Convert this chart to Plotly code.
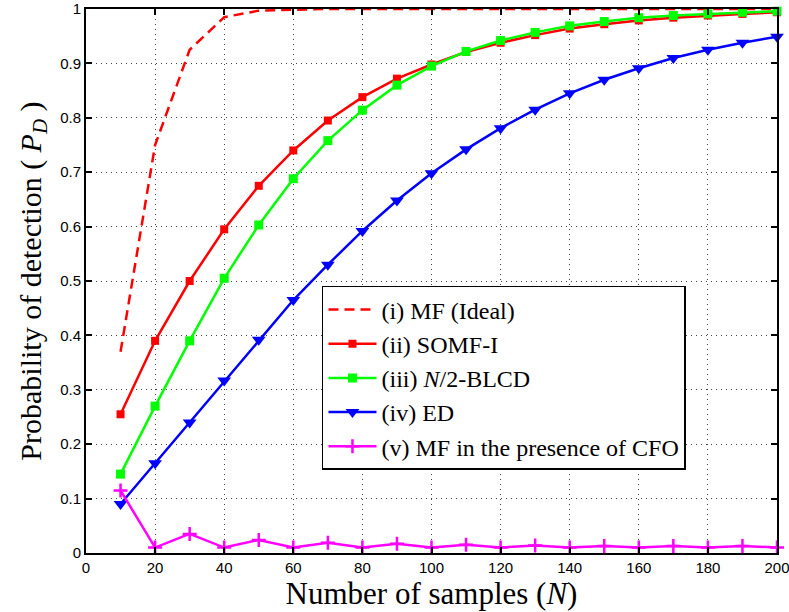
import plotly.graph_objects as go

N = list(range(10, 201, 10))
mf_ideal = [0.37, 0.75, 0.925, 0.985, 0.997, 0.999, 1.0, 1.0, 1.0, 1.0,
            1.0, 1.0, 1.0, 1.0, 1.0, 1.0, 1.0, 1.0, 1.0, 1.0]
somf = [0.255, 0.39, 0.50, 0.595, 0.675, 0.74, 0.795, 0.838, 0.872, 0.898,
        0.921, 0.938, 0.952, 0.964, 0.972, 0.979, 0.984, 0.988, 0.991, 0.994]
blcd = [0.145, 0.27, 0.39, 0.505, 0.603, 0.688, 0.758, 0.814, 0.86, 0.895,
        0.922, 0.942, 0.957, 0.969, 0.977, 0.984, 0.988, 0.991, 0.994, 0.996]
ed = [0.09, 0.165, 0.24, 0.317, 0.392, 0.465, 0.53, 0.592, 0.648, 0.698,
      0.742, 0.781, 0.815, 0.845, 0.87, 0.891, 0.91, 0.925, 0.938, 0.949]
cfo = [0.115, 0.01, 0.035, 0.01, 0.024, 0.01, 0.019, 0.01, 0.017, 0.01,
       0.015, 0.01, 0.014, 0.01, 0.013, 0.01, 0.013, 0.01, 0.013, 0.01]

names = ["(i) MF (Ideal)", "(ii) SOMF-I", "(iii) <i>N</i>/2-BLCD", "(iv) ED",
         "(v) MF in the presence of CFO"]
x_ticks = list(range(0, 201, 20))
y_ticks = [round(0.1 * i, 1) for i in range(11)]
y_tick_text = ["0", "0.1", "0.2", "0.3", "0.4", "0.5", "0.6", "0.7", "0.8", "0.9", "1"]

fig = go.Figure()
fig.add_trace(go.Scatter(x=N, y=mf_ideal, mode="lines", name=names[0], legendgroup="a",
                         line=dict(color="#ff0000", width=2.5, dash="10px,6px"), cliponaxis=False))
fig.add_trace(go.Scatter(x=N, y=somf, mode="lines+markers", name=names[1], legendgroup="b",
                         line=dict(color="#ff0000", width=2.5),
                         marker=dict(symbol="square", size=8, color="#ff0000"), cliponaxis=False))
fig.add_trace(go.Scatter(x=N, y=blcd, mode="lines+markers", name=names[2], legendgroup="c",
                         line=dict(color="#00ff00", width=2.5),
                         marker=dict(symbol="square", size=9, color="#00ff00"), cliponaxis=False))
fig.add_trace(go.Scatter(x=N, y=ed, mode="lines+markers", name=names[3], legendgroup="d",
                         line=dict(color="#0000ff", width=2.5),
                         marker=dict(symbol="triangle-down", size=12, color="#0000ff"), cliponaxis=False))
fig.add_trace(go.Scatter(x=N, y=cfo, mode="lines+markers", name=names[4], legendgroup="e",
                         line=dict(color="#ff00ff", width=2.5),
                         marker=dict(symbol="cross-thin", size=10, color="#ff00ff",
                                     line=dict(color="#ff00ff", width=2.5)), cliponaxis=False))

axis_common = dict(showline=True, linecolor="black", linewidth=2, mirror="ticks",
                   ticks="inside", ticklen=6, tickwidth=1.5, tickcolor="black",
                   showgrid=True, gridcolor="#444444", griddash="1px,4px", gridwidth=1,
                   zeroline=False, ticklabeloverflow="allow", automargin=False,
                   tickfont=dict(family="Liberation Sans, Arial, sans-serif", size=15, color="black"))

fig.update_xaxes(range=[0, 200], tickvals=x_ticks,
                 title=dict(text="Number of samples (<i>N</i>)",
                            font=dict(family="Liberation Serif, Times New Roman, serif", size=31, color="black"),
                            standoff=2),
                 **axis_common)
fig.update_yaxes(range=[0, 1], tickvals=y_ticks, ticktext=y_tick_text,
                 title=dict(text="Probability of detection ( <i>P</i><sub><i>D</i></sub> )",
                            font=dict(family="Liberation Serif, Times New Roman, serif", size=30, color="black"),
                            standoff=10),
                 **axis_common)

fig.update_layout(
    width=789, height=612,
    margin=dict(l=86, r=12, t=9, b=59),
    plot_bgcolor="white", paper_bgcolor="white",
    showlegend=True,
    legend=dict(x=0.3415, y=0.491, xanchor="left", yanchor="top",
                bgcolor="white", bordercolor="black", borderwidth=1.5,
                font=dict(family="Liberation Serif, Times New Roman, serif", size=24, color="black"),
                tracegroupgap=0, itemwidth=48),
)

fig.write_html("out.html")
